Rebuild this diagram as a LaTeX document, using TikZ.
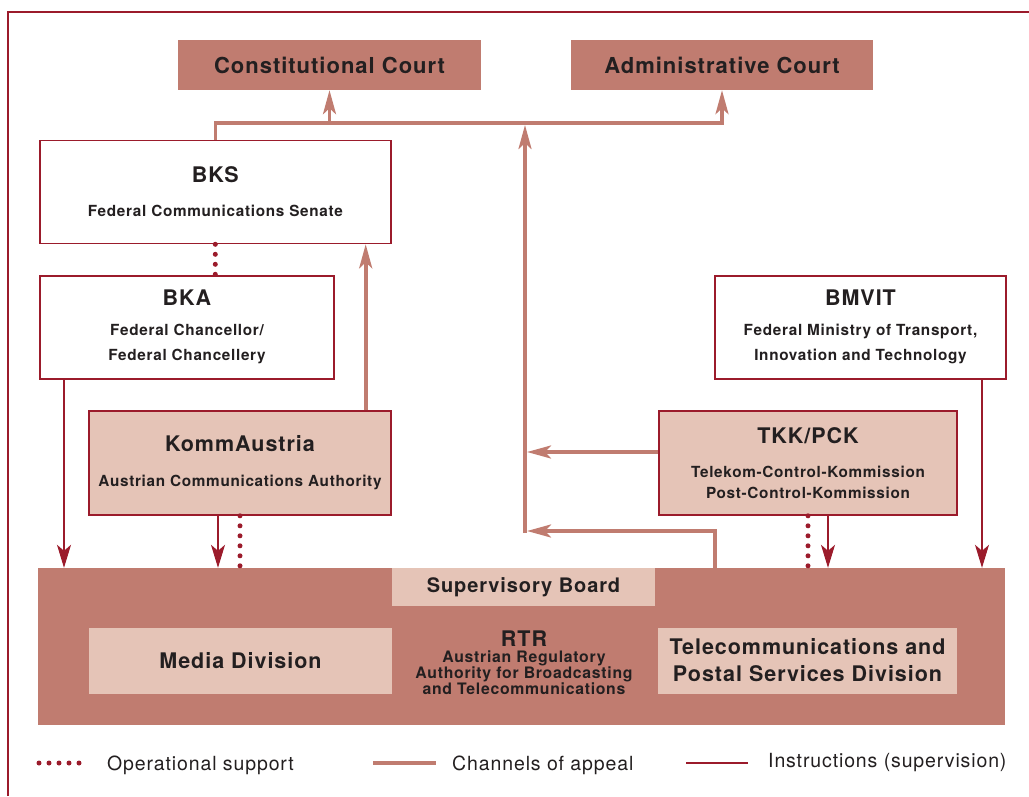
\documentclass[tikz,border=0pt]{standalone}
\usepackage{fontspec}
\setmainfont[LetterSpace=4.5]{TeX Gyre Heros}
\usepackage{tikz}
\usetikzlibrary{arrows.meta,calc}
\definecolor{rtrsalmon}{HTML}{C07C70}
\definecolor{rtrpale}{HTML}{E5C4B7}
\definecolor{rtrdark}{HTML}{9B1B2B}
\definecolor{rtrink}{HTML}{231F20}
\newcommand{\courtfont}{\bfseries\fontsize{22}{26}\selectfont}
\newcommand{\headfont}{\bfseries\fontsize{21.5}{24}\selectfont}
\newcommand{\subfont}{\bfseries\fontsize{15.3}{24}\selectfont}
\newcommand{\legendfont}{\fontsize{19.5}{24}\selectfont}
\tikzset{
  court/.style={fill=rtrsalmon,inner sep=0pt,minimum height=50,
    font=\courtfont,text=rtrink},
  authority/.style={draw=rtrdark,line width=1.6pt,fill=white,inner sep=0pt,
    minimum height=104,align=center,font=\subfont,text=rtrink},
  commission/.style={authority,fill=rtrpale},
  appeal/.style={draw=rtrsalmon,line width=3.6pt},
  appealarrow/.style={appeal,-{Stealth[length=24pt,width=13pt,inset=6pt]}},
  instruct/.style={draw=rtrdark,line width=1.1pt,
    -{Stealth[length=23pt,width=14pt,inset=6pt]}},
  support/.style={draw=rtrdark,line width=5pt,line cap=round,
    dash pattern=on 0pt off 10pt}
}
\begin{document}
\begin{tikzpicture}[x=1pt,y=-1pt,
  division/.style={fill=rtrpale,inner sep=0pt,minimum height=66,
    align=center,font=\headfont,text=rtrink},
  legendtext/.style={anchor=base west,inner sep=0pt,font=\legendfont,text=rtrink}
]
  \useasboundingbox (0,0) rectangle (1029,796);
  % frame
  \draw[rtrdark,line width=2.8pt] (8,796) -- (8,12) -- (1029,12);
  % courts
  \node[court,minimum width=303] (const) at (329.5,65) {Constitutional Court};
  \node[court,minimum width=302] (adm) at (722,65) {Administrative Court};
  % authorities
  \node[authority,minimum width=351,minimum height=103] (bks) at (215.3,192)
    {{\headfont BKS}\\[10pt]Federal Communications Senate};
  \node[authority,minimum width=294,minimum height=103] (bka) at (187,327.3)
    {{\headfont BKA}\\[6pt]Federal Chancellor/\\[1pt]Federal Chancellery};
  \node[authority,minimum width=291,minimum height=103] (bmvit) at (860.5,327.3)
    {{\headfont BMVIT}\\[6pt]Federal Ministry of Transport,\\[1pt]Innovation and Technology};
  \node[commission,minimum width=302] (komm) at (240,463)
    {{\headfont KommAustria}\\[11pt]Austrian Communications Authority};
  \node[commission,minimum width=298] (tkk) at (808,463)
    {{\headfont TKK/PCK}\\[10pt]Telekom-Control-Kommission\\[-3pt]Post-Control-Kommission};
  % RTR
  \node[fill=rtrsalmon,inner sep=0pt,minimum width=967,minimum height=157] (rtr) at (521.5,646.5) {};
  \node[division,minimum width=263,minimum height=38,font=\bfseries\fontsize{20}{24}\selectfont]
    (board) at (523.5,586.8) {Supervisory Board};
  \node[division,minimum width=303] (media) at (240.5,660.5) {Media Division};
  \node[division,minimum width=299] (telecom) at (807.5,660.5)
    {Telecommunications and\\[3pt]Postal Services Division};
  \node[align=center,inner sep=0pt,text=rtrink,font=\bfseries\fontsize{15.8}{16}\selectfont]
    (rtrlabel) at (524,663)
    {{\headfont RTR}\\Austrian Regulatory\\Authority for Broadcasting\\and Telecommunications};
  % channels of appeal
  \coordinate (appealbus) at (525,123);
  \coordinate (trunkfoot) at (525,533);
  \coordinate (tkkjoin) at (527,452);
  \coordinate (rtrjoin) at (527,531);
  \draw[appealarrow] (bks.north) |- (adm.south |- appealbus) -- (adm.south);
  \draw[appealarrow] (const.south |- appealbus) -- (const.south);
  \draw[appealarrow] (trunkfoot) -- ($(appealbus)+(0,2)$);
  \draw[appealarrow] (tkk.west |- tkkjoin) -- (tkkjoin);
  \draw[appealarrow] (rtr.north -| 715,0) |- (rtrjoin);
  \draw[appealarrow] (komm.north -| 365.7,0) -- (bks.south -| 365.7,0);
  % instructions
  \draw[instruct] (bka.south -| 64,0) -- (rtr.north -| 64,0);
  \draw[instruct] (komm.south -| 218,0) -- (rtr.north -| 218,0);
  \draw[instruct] (tkk.south -| 828,0) -- (rtr.north -| 828,0);
  \draw[instruct] (bmvit.south -| 982,0) -- (rtr.north -| 982,0);
  % operational support
  \draw[support] (bks.south) -- (bka.north -| bks.south);
  \draw[support] (komm.south -| 240,0) -- (rtr.north -| 240,0);
  \draw[support] (tkk.south -| 808,0) -- (rtr.north -| 808,0);
  % legend
  \coordinate (supportA) at (39,763);
  \coordinate (supportB) at (89,763);
  \coordinate (appealA) at (373,763);
  \coordinate (appealB) at (436,763);
  \coordinate (instructA) at (686,763);
  \coordinate (instructB) at (748,763);
  \draw[support] (supportA) -- (supportB);
  \draw[appeal] (appealA) -- (appealB);
  \draw[draw=rtrdark,line width=1.1pt] (instructA) -- (instructB);
  \node[legendtext] (supportkey) at (107,770) {Operational support};
  \node[legendtext] (appealkey) at (452,770) {Channels of appeal};
  \node[legendtext] (instructkey) at (768,767) {Instructions (supervision)};
\end{tikzpicture}
\end{document}
